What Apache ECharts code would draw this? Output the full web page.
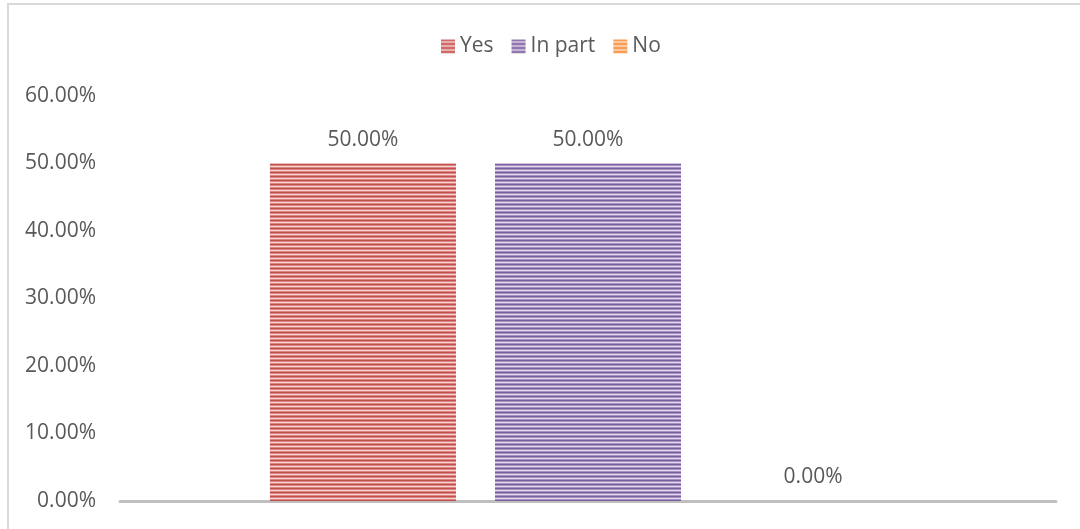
<!DOCTYPE html>
<html>
<head>
<meta charset="utf-8">
<style>
  html, body { margin: 0; padding: 0; background: #ffffff; }
  #chart { width: 1080px; height: 529px; }
</style>
<script src="https://cdn.jsdelivr.net/npm/echarts@6/dist/echarts.min.js"></script>
</head>
<body>
<div id="chart"></div>
<script>
// Chart data
const categories = [''];
const seriesNames = ['Yes', 'In part', 'No'];
const yesValues = [50];
const inPartValues = [50];
const noValues = [0];
const yTicks = [0, 10, 20, 30, 40, 50, 60];

// Horizontal striped fill, 4px repeat
function stripes(dark, mid, light) {
  const c = document.createElement('canvas');
  c.width = 4; c.height = 4;
  const ctx = c.getContext('2d');
  const rows = [dark, mid, light, mid];
  rows.forEach((col, i) => { ctx.fillStyle = col; ctx.fillRect(0, i, 4, 1); });
  return { image: c, repeat: 'repeat' };
}

const fills = [
  stripes('#c0504d', '#dc8482', '#f6d6d5'),
  stripes('#7a5e9e', '#a691c2', '#e2daed'),
  stripes('#f58a33', '#f9b27a', '#fde0c8')
];

const valueLists = [yesValues, inPartValues, noValues];
const font = 'Open Sans';
const textColor = '#595959';

const chart = echarts.init(document.getElementById('chart'));
chart.setOption({
  animation: false,
  backgroundColor: '#ffffff',
  graphic: [{
    type: 'rect',
    shape: { x: 8, y: 4, width: 1100, height: 600 },
    style: { fill: 'none', stroke: '#d9d9d9', lineWidth: 2 },
    silent: true,
    z: -1
  }],
  legend: {
    data: seriesNames,
    top: 31,
    left: 436,
    itemWidth: 14,
    itemHeight: 14,
    itemGap: 18,
    icon: 'rect',
    textStyle: { fontFamily: font, fontSize: 21, color: textColor, padding: [0, 0, 0, 0] }
  },
  grid: { left: 120, right: 24, top: 96, bottom: 28, containLabel: false },
  xAxis: {
    type: 'category',
    data: categories,
    axisLine: { lineStyle: { color: '#bfbfbf', width: 3 } },
    axisTick: { show: false },
    axisLabel: { show: false }
  },
  yAxis: {
    type: 'value',
    min: yTicks[0],
    max: yTicks[yTicks.length - 1],
    interval: 10,
    axisLine: { show: false },
    axisTick: { show: false },
    splitLine: { show: false },
    axisLabel: {
      margin: 24,
      fontFamily: font,
      fontSize: 21,
      color: textColor,
      formatter: v => v.toFixed(2) + '%'
    }
  },
  series: seriesNames.map((name, i) => ({
    name: name,
    type: 'bar',
    data: valueLists[i],
    barWidth: 186,
    barGap: '21%',
    itemStyle: { color: fills[i] },
    label: {
      show: true,
      position: 'top',
      distance: 13,
      fontFamily: font,
      fontSize: 21,
      color: textColor,
      formatter: p => p.value.toFixed(2) + '%'
    }
  }))
});
</script>
</body>
</html>
